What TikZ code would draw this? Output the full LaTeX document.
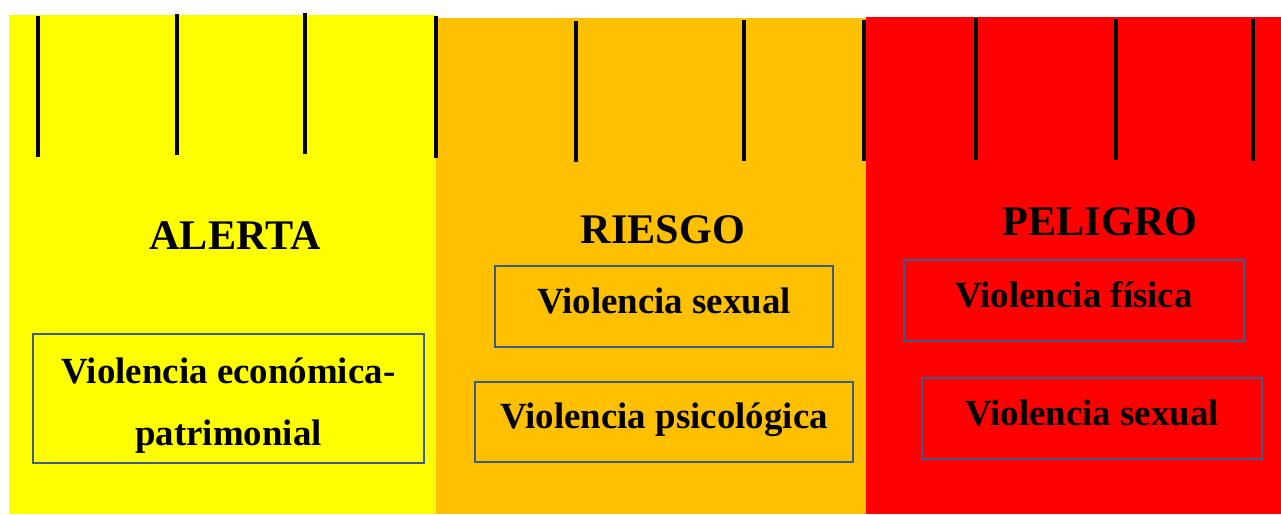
\documentclass[tikz,border=0pt]{standalone}
\usepackage{fontspec}
\setmainfont{Liberation Serif}
\usetikzlibrary{positioning}
\definecolor{amarillo}{RGB}{255,255,0}
\definecolor{naranja}{RGB}{255,192,0}
\definecolor{rojo}{RGB}{255,0,0}
\definecolor{borde}{RGB}{63,90,140}
\tikzset{
  marca/.style={line width=2pt,black},
  nivel/.style={font=\bfseries\fontsize{24}{28}\selectfont,inner sep=0pt,anchor=base},
  caja/.style={draw=borde,line width=1.1pt,font=\bfseries\fontsize{21}{35}\selectfont,align=center,inner sep=0pt},
  cajauna/.style={caja,text depth=2.5mm,minimum height=16.2mm},
}

\begin{document}
\begin{tikzpicture}[x=0.2mm,y=-0.2mm]
    \useasboundingbox (0,0) rectangle (1281,514);
    % bandas
    \fill[amarillo] (9,15) rectangle (436,514);
    \fill[naranja] (436,18) rectangle (866,514);
    \fill[rojo] (866,17) rectangle (1281,514);
    % marcas
    \foreach \x/\a/\b in {38/16/157,177/14/155,305/13/154,436/16/158,
                          576/21/162,744/20/161,864/20/161,
                          976/18/160,1116/19/160,1253/19/161}
      \draw[marca] (\x,\a) -- (\x,\b);
    % niveles
    \node[nivel] (alerta) at (235,249) {ALERTA};
    \node[nivel] (riesgo) at (663,243) {RIESGO};
    \node[nivel] (peligro) at (1100,235) {PELIGRO};
    % cajas
    \node[caja,text height=20.3mm,minimum width=78.2mm,minimum height=25.8mm] (economica) at (228.5,398.5) {Violencia económica-\\patrimonial};
    \node[cajauna,minimum width=67.6mm] (sexual1) at (664,306.5) {Violencia sexual};
    \node[cajauna,minimum width=75.6mm,minimum height=16mm] (psicologica) at (664,422) {Violencia psicológica};
    \node[cajauna,minimum width=68mm] (fisica) at (1074,300.5) {Violencia física};
    \node[cajauna,minimum width=68mm] (sexual2) at (1092,418.5) {Violencia sexual};
\end{tikzpicture}
\end{document}
